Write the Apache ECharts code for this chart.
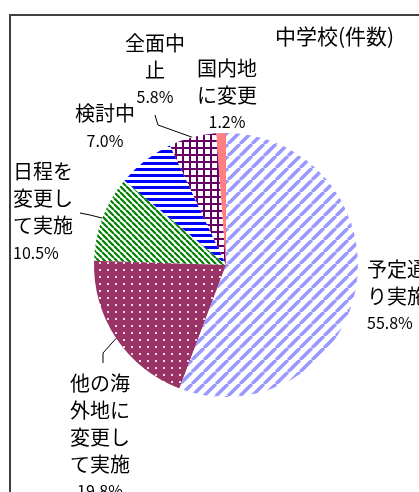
<!DOCTYPE html>
<html><head><meta charset="utf-8">
<script src="https://cdn.jsdelivr.net/npm/echarts@6/dist/echarts.min.js"></script>
<style>html,body{margin:0;padding:0;background:#fff}#c{width:419px;height:492px}</style>
</head><body><div id="c"></div>
<script>
const categories = ['国内地に変更','全面中止','検討中','日程を変更して実施','他の海外地に変更して実施','予定通り実施'];
const shares = [1.2, 5.8, 7.0, 10.5, 19.8, 55.8];
const showLeader = [false, true, false, true, true, false];
const titleText = '中学校(件数)';

const FONT = '"Noto Sans CJK JP", sans-serif';
function tile(w,h,draw){const c=document.createElement('canvas');c.width=w;c.height=h;const g=c.getContext('2d');draw(g,w,h);return {image:c,repeat:'repeat'};}
const fills = [
 '#FF8080',
 tile(7,7,(g,w,h)=>{g.fillStyle='#fff';g.fillRect(0,0,w,h);g.fillStyle='#660066';g.fillRect(0,0,w,2);g.fillRect(0,0,2,h);}),
 tile(6,6,(g,w,h)=>{g.fillStyle='#fff';g.fillRect(0,0,w,h);g.fillStyle='#0000FF';g.fillRect(0,0,w,3);}),
 tile(6,6,(g,w,h)=>{g.fillStyle='#fff';g.fillRect(0,0,w,h);g.strokeStyle='#008000';g.lineWidth=2.2;g.beginPath();for(let k=-1;k<=1;k++){g.moveTo(k*w,0);g.lineTo(k*w+w,h);}g.stroke();}),
 tile(8,7,(g,w,h)=>{g.fillStyle='#993366';g.fillRect(0,0,w,h);g.fillStyle='#f2dce8';g.fillRect(3,3,2,2);}),
 tile(12,12,(g,w,h)=>{g.fillStyle='#fff';g.fillRect(0,0,w,h);g.strokeStyle='#9999FF';g.lineWidth=3.5;g.beginPath();for(let k=-1;k<=1;k++){g.moveTo(k*w,h);g.lineTo(k*w+w,0);}g.stroke();})
];

// label placement (layout only)
const labelSpots = [
 {x:227, y:95, align:'center'},
 {x:155, y:70, align:'center'},
 {x:105, y:127, align:'center'},
 {x:13, y:212, align:'left'},
 {x:100, y:437, align:'center'},
 {x:367, y:296, align:'left'}
];
const leaderBends = {1:[[158,125],[155,115]], 3:[[90,215],[80,213]], 4:[[103,353],[103,363]]};

function wrap3(s){const out=[];for(let i=0;i<s.length;i+=3)out.push(s.slice(i,i+3));return out.join('\n');}

const chart = echarts.init(document.getElementById('c'));
chart.setOption({
  animation:false,
  backgroundColor:'#fff',
  title:{text:titleText,left:270,top:21,textStyle:{fontSize:21,fontWeight:'normal',color:'#000',fontFamily:FONT}},
  graphic:[{type:'rect',z:-1,shape:{x:10,y:15,width:600,height:600},style:{fill:'none',stroke:'#404040',lineWidth:2}}],
  series:[{
    type:'pie',
    center:[226,265],
    radius:132,
    startAngle:90,
    clockwise:false,
    avoidLabelOverlap:false,
    itemStyle:{borderWidth:0},
    label:{
      show:true,position:'outside',color:'#000',fontFamily:FONT,fontSize:20,lineHeight:27,
      formatter:p=>wrap3(p.name)+'\n{p|'+Number(p.value).toFixed(1)+'%}',
      rich:{p:{fontSize:16,lineHeight:27,fontFamily:FONT,color:'#000'}}
    },
    labelLine:{show:true,lineStyle:{color:'#000',width:1}},
    labelLayout:function(params){
      const s=labelSpots[params.dataIndex];
      const o={x:s.x,y:s.y,align:s.align,verticalAlign:'middle'};
      const b=leaderBends[params.dataIndex];
      if(b && params.labelLinePoints){o.labelLinePoints=[params.labelLinePoints[0].slice(),b[0],b[1]];}
      return o;
    },
    emphasis:{disabled:true},
    data:categories.map((n,i)=>({name:n,value:shares[i],itemStyle:{color:fills[i]},labelLine:{show:showLeader[i]}}))
  }]
});
</script></body></html>
